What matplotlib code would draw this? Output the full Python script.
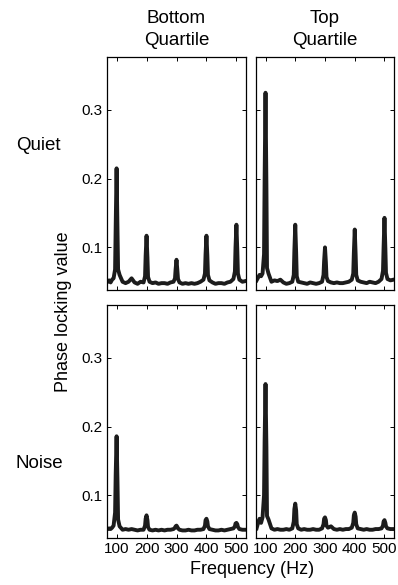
import numpy as np
import matplotlib
matplotlib.use("Agg")
import matplotlib.pyplot as plt

plt.rcParams['font.family'] = ['Liberation Sans', 'DejaVu Sans']

# ------------------------------------------------------------
# Data: phase locking value vs frequency
# ------------------------------------------------------------
freq = [70, 75, 80, 85, 90,
        95, 97, 100, 103, 105,
        110, 120, 130, 140, 150,
        160, 170, 180, 190,
        195, 197, 200, 203, 205,
        210, 220, 230, 240, 250,
        260, 270, 280, 290,
        295, 297, 300, 303, 305,
        310, 320, 330, 340, 350,
        360, 370, 380, 390,
        395, 397, 400, 403, 405,
        410, 420, 430, 440, 450,
        460, 470, 480, 490,
        495, 497, 500, 503, 505,
        510, 520, 530]

quiet_bottom = [0.050, 0.052, 0.049, 0.053, 0.055,
                0.068, 0.130, 0.215, 0.125, 0.068,
                0.060, 0.050, 0.048, 0.050, 0.055,
                0.049, 0.047, 0.050, 0.049,
                0.058, 0.088, 0.117, 0.085, 0.057,
                0.050, 0.048, 0.049, 0.047, 0.048,
                0.048, 0.047, 0.049, 0.050,
                0.055, 0.068, 0.082, 0.066, 0.054,
                0.049, 0.047, 0.048, 0.047, 0.048,
                0.047, 0.048, 0.050, 0.053,
                0.062, 0.090, 0.117, 0.088, 0.060,
                0.052, 0.049, 0.047, 0.048, 0.048,
                0.047, 0.049, 0.050, 0.054,
                0.065, 0.100, 0.133, 0.095, 0.062,
                0.053, 0.050, 0.051]

quiet_top = [0.052, 0.056, 0.060, 0.058, 0.062,
             0.090, 0.200, 0.325, 0.190, 0.070,
             0.062, 0.050, 0.052, 0.051, 0.053,
             0.049, 0.047, 0.048, 0.050,
             0.060, 0.095, 0.133, 0.092, 0.058,
             0.050, 0.049, 0.048, 0.047, 0.049,
             0.048, 0.047, 0.048, 0.050,
             0.060, 0.080, 0.100, 0.078, 0.057,
             0.051, 0.049, 0.048, 0.049, 0.048,
             0.048, 0.049, 0.050, 0.053,
             0.062, 0.092, 0.126, 0.090, 0.060,
             0.052, 0.050, 0.049, 0.048, 0.050,
             0.049, 0.048, 0.050, 0.054,
             0.066, 0.100, 0.143, 0.098, 0.063,
             0.054, 0.052, 0.053]

noise_bottom = [0.051, 0.052, 0.051, 0.053, 0.056,
                0.075, 0.130, 0.186, 0.120, 0.065,
                0.055, 0.050, 0.051, 0.050, 0.051,
                0.050, 0.049, 0.050, 0.050,
                0.056, 0.066, 0.071, 0.064, 0.054,
                0.050, 0.049, 0.050, 0.049, 0.050,
                0.049, 0.050, 0.050, 0.051,
                0.053, 0.055, 0.056, 0.054, 0.052,
                0.050, 0.049, 0.049, 0.050, 0.049,
                0.049, 0.050, 0.050, 0.051,
                0.056, 0.064, 0.066, 0.062, 0.055,
                0.051, 0.050, 0.049, 0.049, 0.050,
                0.049, 0.050, 0.051, 0.052,
                0.055, 0.059, 0.060, 0.058, 0.054,
                0.051, 0.050, 0.050]

noise_top = [0.052, 0.060, 0.066, 0.060, 0.068,
             0.100, 0.180, 0.262, 0.170, 0.070,
             0.065, 0.052, 0.050, 0.051, 0.050,
             0.050, 0.051, 0.050, 0.052,
             0.062, 0.080, 0.088, 0.078, 0.058,
             0.052, 0.050, 0.051, 0.050, 0.050,
             0.051, 0.050, 0.050, 0.052,
             0.058, 0.066, 0.068, 0.064, 0.056,
             0.053, 0.055, 0.051, 0.050, 0.051,
             0.050, 0.051, 0.051, 0.053,
             0.060, 0.071, 0.075, 0.069, 0.058,
             0.052, 0.051, 0.050, 0.051, 0.050,
             0.050, 0.051, 0.051, 0.052,
             0.056, 0.062, 0.064, 0.060, 0.055,
             0.052, 0.051, 0.051]

col_titles = ["Bottom\nQuartile", "Top\nQuartile"]
row_labels = ["Quiet", "Noise"]
x_ticks = [100, 200, 300, 400, 500]
y_ticks = [0.1, 0.2, 0.3]

# ------------------------------------------------------------
# Figure
# ------------------------------------------------------------
W, H = 398, 585
fig = plt.figure(figsize=(W / 100, H / 100), dpi=100)

def px_axes(x0, y0, x1, y1):
    return fig.add_axes([x0 / W, 1 - y1 / H, (x1 - x0) / W, (y1 - y0) / H])

axes = [[px_axes(107, 57, 246, 290), px_axes(256, 57, 394, 290)],
        [px_axes(107, 305, 246, 538), px_axes(256, 305, 394, 538)]]

series = [[quiet_bottom, quiet_top], [noise_bottom, noise_top]]

for r in range(2):
    for c in range(2):
        ax = axes[r][c]
        ax.plot(freq, series[r][c], color="#1c1c1c", lw=2.8,
                solid_joinstyle="round")
        ax.set_xlim(68, 532)
        ax.set_ylim(0.038, 0.377)
        ax.set_xticks(x_ticks)
        ax.set_yticks(y_ticks)
        ax.tick_params(direction="in", length=3, width=0.7,
                       top=True, right=True, labelsize=11, pad=3)
        for s in ax.spines.values():
            s.set_linewidth(0.9)
        if r == 0:
            ax.set_xticklabels([])
        if c == 1:
            ax.set_yticklabels([])

fig.text(176.5 / W, 1 - 29.5 / H, col_titles[0], ha="center", va="center",
         fontsize=13.5, linespacing=1.35)
fig.text(325 / W, 1 - 29.5 / H, col_titles[1], ha="center", va="center",
         fontsize=13.5, linespacing=1.35)
fig.text(38 / W, 1 - 145 / H, row_labels[0], ha="center", va="center", fontsize=13.5)
fig.text(39 / W, 1 - 463 / H, row_labels[1], ha="center", va="center", fontsize=13.5)
fig.text(64 / W, 1 - 312 / H, "Phase locking value", rotation=90,
         ha="center", va="center", fontsize=13)
fig.text(252 / W, 1 - 569 / H, "Frequency (Hz)", ha="center", va="center",
         fontsize=13)

fig.savefig("out.png", dpi=100)
